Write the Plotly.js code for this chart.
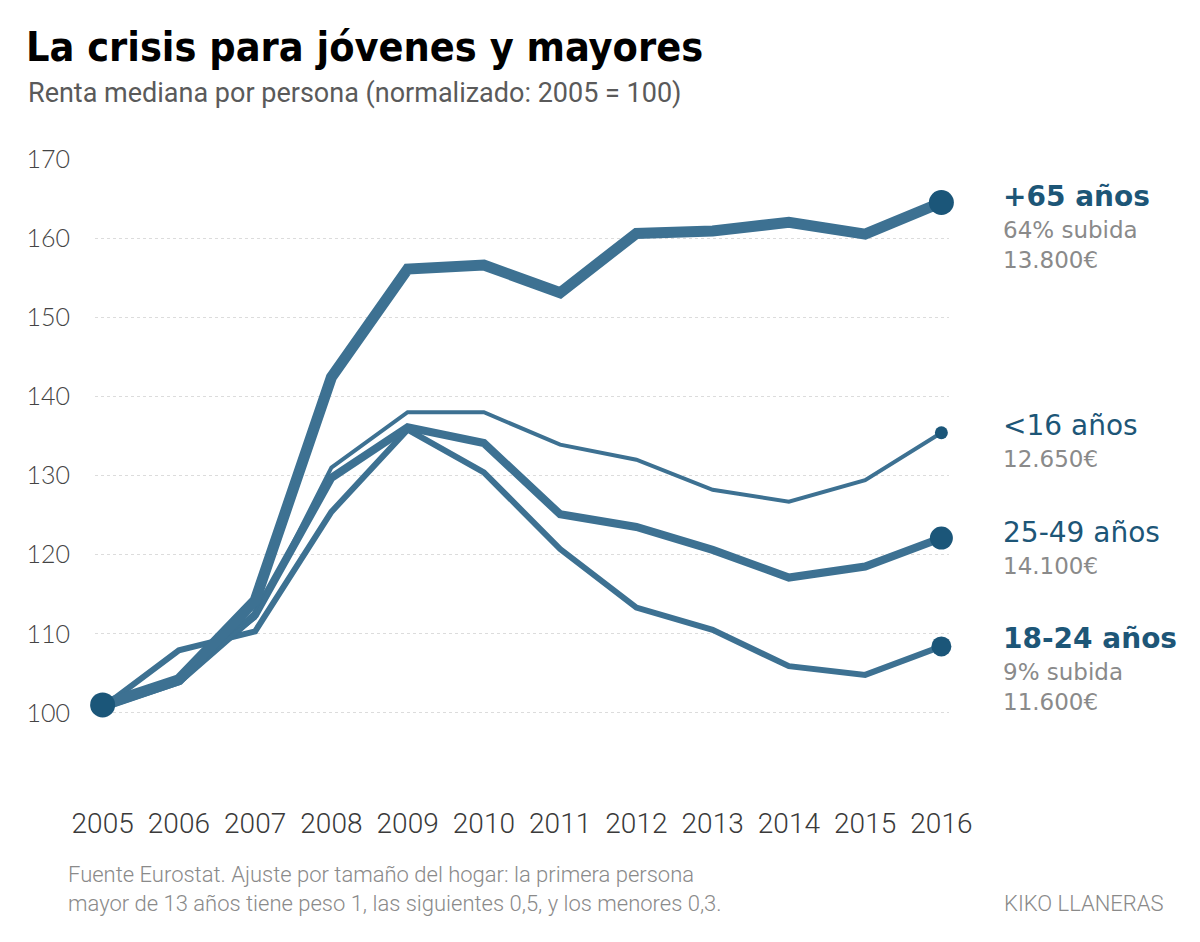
<!DOCTYPE html>
<html>
<head>
<meta charset="utf-8">
<script src="https://cdn.plot.ly/plotly-3.0.1.min.js"></script>
<style>html,body{margin:0;padding:0;background:#fff}#chart{width:1200px;height:942px}</style>
</head>
<body>
<div id="chart"></div>
<script>
// ---- data ----
const years = [2005, 2006, 2007, 2008, 2009, 2010, 2011, 2012, 2013, 2014, 2015, 2016];
const mayores65 = [101.0, 104.2, 114.2, 142.4, 156.1, 156.6, 153.1, 160.6, 160.9, 162.0, 160.5, 164.5];
const menores16 = [100.7, 104.6, 112.0, 131.0, 138.0, 138.0, 133.9, 132.0, 128.2, 126.7, 129.4, 135.4];
const adultos25_49 = [100.7, 104.0, 112.4, 129.7, 136.1, 134.1, 125.1, 123.5, 120.6, 117.1, 118.5, 122.1];
const jovenes18_24 = [100.7, 107.9, 110.3, 125.4, 135.8, 130.4, 120.7, 113.3, 110.5, 105.9, 104.8, 108.4];
const yTicks = [90, 100, 110, 120, 130, 140, 150, 160, 170];
const yTickText = ['', '100', '110', '120', '130', '140', '150', '160', '170'];
const groupNames = ['+65 años', '<16 años', '25-49 años', '18-24 años'];
const groupNotes = [['64% subida', '13.800€'], ['12.650€'], ['14.100€'], ['9% subida', '11.600€']];

// ---- styling ----
const lineColor = '#3d7192';
const dotColor = '#1b5679';
const labelBlue = '#1d5677';
const gray = '#8a8a8a';
const condensed = '"Roboto", "Liberation Sans Narrow", sans-serif';
const wide = '"DejaVu Sans", "Open Sans", sans-serif';

const series = [
  {name: '18-24 años', y: jovenes18_24, width: 6, dot: 20},
  {name: '25-49 años', y: adultos25_49, width: 8, dot: 23},
  {name: '<16 años', y: menores16, width: 4, dot: 13},
  {name: '+65 años', y: mayores65, width: 11, dot: 25}
];

const traces = [];
series.forEach(s => {
  traces.push({
    type: 'scatter', mode: 'lines', x: years, y: s.y, name: s.name,
    line: {color: lineColor, width: s.width, shape: 'linear'},
    hoverinfo: 'skip', cliponaxis: false
  });
});
series.forEach(s => {
  const n = years.length - 1;
  traces.push({
    type: 'scatter', mode: 'markers', x: [years[n]], y: [s.y[n]],
    marker: {color: dotColor, size: s.dot}, hoverinfo: 'skip', cliponaxis: false
  });
});
// starting dot on +65 series
traces.push({
  type: 'scatter', mode: 'markers', x: [years[0]], y: [mayores65[0]],
  marker: {color: dotColor, size: 25}, hoverinfo: 'skip', cliponaxis: false
});

// pixel helpers for layout placement
const L = 95, T = 159, W = 854, H = 633;
const px = x => (x - L) / W;
const py = y => (T + H - y) / H;

// label blocks: name line (blue) followed by gray note lines
const headY = [196, 425, 532, 638];
const headBold = [true, false, false, true];
const noteGap0 = 34, noteGap = 30;
const annotations = [];
groupNames.forEach((nm, i) => {
  annotations.push({
    text: headBold[i] ? '<b>' + nm.replace('<', '&lt;') + '</b>' : nm.replace('<', '&lt;'),
    xref: 'paper', yref: 'paper', x: px(1001), y: py(headY[i]),
    xanchor: 'left', yanchor: 'middle', showarrow: false,
    font: {family: wide, size: 28, color: labelBlue, weight: headBold[i] ? 700 : 400}
  });
  groupNotes[i].forEach((t, j) => {
    annotations.push({
      text: t, xref: 'paper', yref: 'paper', x: px(1001), y: py(headY[i] + noteGap0 + j * noteGap),
      xanchor: 'left', yanchor: 'middle', showarrow: false,
      font: {family: wide, size: 23, color: gray, weight: 400}
    });
  });
});

annotations.push(
  {
    text: 'Renta mediana por persona (normalizado: 2005 = 100)',
    xref: 'paper', yref: 'paper', x: px(26), y: py(93), xanchor: 'left', yanchor: 'middle', showarrow: false,
    font: {family: condensed, size: 27, color: '#5a5a5a'}
  },
  {
    text: 'Fuente Eurostat. Ajuste por tamaño del hogar: la primera persona<br>mayor de 13 años tiene peso 1, las siguientes 0,5, y los menores 0,3.',
    xref: 'paper', yref: 'paper', x: px(66), y: py(889), xanchor: 'left', yanchor: 'middle', align: 'left',
    showarrow: false,
    font: {family: condensed, size: 22, color: gray, weight: 300}
  },
  {
    text: 'KIKO LLANERAS', xref: 'paper', yref: 'paper', x: px(1166), y: py(903),
    xanchor: 'right', yanchor: 'middle', showarrow: false,
    font: {family: condensed, size: 22, color: gray, weight: 300}
  }
);

const layout = {
  width: 1200, height: 942,
  margin: {l: L, r: 1200 - L - W, t: T, b: 942 - T - H, pad: 0},
  paper_bgcolor: '#fff', plot_bgcolor: '#fff',
  showlegend: false,
  title: {
    text: '<b>La crisis para jóvenes y mayores</b>',
    xref: 'container', yref: 'container', x: 26 / 1200, xanchor: 'left',
    y: 1 - 47 / 942, yanchor: 'middle',
    font: {family: '"DejaVu Sans Condensed", "Liberation Sans Narrow", sans-serif', size: 41, color: '#000'}
  },
  xaxis: {
    range: [2004.9, 2016.1], tickvals: years, ticktext: years.map(String),
    showgrid: false, zeroline: false, showline: false, ticks: '',
    ticklabelstandoff: 12,
    tickfont: {family: condensed, size: 28, color: '#3a3a3a', weight: 300}
  },
  yaxis: {
    range: [90, 170], tickvals: yTicks, ticktext: yTickText,
    showgrid: true, gridcolor: '#dcdcdc', gridwidth: 1, griddash: 'dot',
    zeroline: false, showline: false, ticks: '',
    ticklabelstandoff: 24,
    tickfont: {family: 'Lato, "Open Sans", sans-serif', size: 25, color: '#444', weight: 300}
  },
  annotations: annotations
};

Plotly.newPlot('chart', traces, layout, {displayModeBar: false, staticPlot: true});
</script>
</body>
</html>
